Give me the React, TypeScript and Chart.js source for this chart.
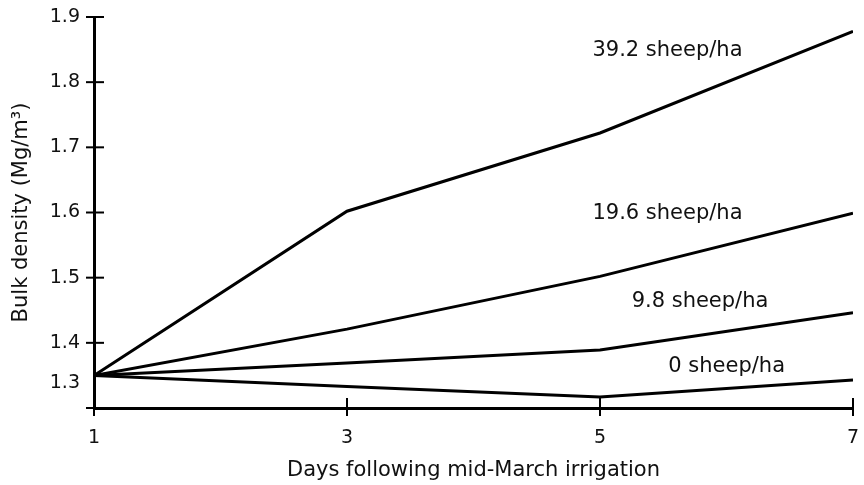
import React, { useEffect, useRef } from "react";
import { Chart, registerables } from "chart.js";

Chart.register(...registerables);

const DAYS = [1, 3, 5, 7];
const X_TICKS = [1, 3, 5, 7];
const Y_TICKS = [1.3, 1.4, 1.5, 1.6, 1.7, 1.8, 1.9];

const SERIES_NAMES = ["39.2 sheep/ha", "19.6 sheep/ha", "9.8 sheep/ha", "0 sheep/ha"];
const S392 = [1.35, 1.602, 1.722, 1.878];
const S196 = [1.35, 1.421, 1.502, 1.599];
const S98 = [1.35, 1.369, 1.389, 1.446];
const S0 = [1.35, 1.333, 1.317, 1.343];
const SERIES = [S392, S196, S98, S0];

// label anchors in data units (left edge, vertical middle)
const LABEL_X = [4.94, 4.94, 5.25, 5.54];
const LABEL_Y = [1.849, 1.599, 1.463, 1.363];
const LOW_LABEL_VALUE = 1.338;

const FONT = "'DejaVu Sans', sans-serif";

export default function App() {
  const ref = useRef<HTMLCanvasElement | null>(null);

  useEffect(() => {
    if (!ref.current) return;

    const tickMarks = {
      id: "tickMarks",
      afterDraw(chart: any) {
        const ctx = chart.ctx;
        const xs = chart.scales.x;
        const ys = chart.scales.y;
        const ax = chart.chartArea.left;
        const ay = chart.chartArea.bottom;
        ctx.save();
        ctx.strokeStyle = "#000";
        ctx.lineWidth = 2;
        Y_TICKS.forEach((v) => {
          const py = ys.getPixelForValue(v);
          ctx.beginPath();
          ctx.moveTo(ax - 8, py);
          ctx.lineTo(ax + 10, py);
          ctx.stroke();
        });
        X_TICKS.forEach((v) => {
          const px = xs.getPixelForValue(v);
          ctx.beginPath();
          ctx.moveTo(px, ay - 10);
          ctx.lineTo(px, ay + 8);
          ctx.stroke();
        });
        // series labels
        ctx.fillStyle = "#111";
        ctx.font = `21px ${FONT}`;
        ctx.textAlign = "left";
        ctx.textBaseline = "middle";
        SERIES_NAMES.forEach((name, i) => {
          ctx.fillText(name, xs.getPixelForValue(LABEL_X[i]), ys.getPixelForValue(LABEL_Y[i]));
        });
        // lowest y tick label drawn raised, as in the original
        ctx.font = `19px ${FONT}`;
        ctx.textAlign = "right";
        ctx.fillText(String(Y_TICKS[0]), ax - 14, ys.getPixelForValue(LOW_LABEL_VALUE));
        ctx.restore();
      },
    };

    const chart = new Chart(ref.current, {
      type: "line",
      data: {
        datasets: SERIES.map((s, i) => ({
          label: SERIES_NAMES[i],
          data: s.map((v, j) => ({ x: DAYS[j], y: v })),
          borderColor: "#000",
          borderWidth: 3,
          pointRadius: 0,
          tension: 0,
          fill: false,
        })),
      },
      options: {
        animation: false,
        responsive: true,
        maintainAspectRatio: false,
        layout: { padding: { top: 17, right: 11, left: 0, bottom: 0 } },
        plugins: { legend: { display: false }, tooltip: { enabled: false } },
        scales: {
          x: {
            type: "linear",
            min: 1,
            max: 7,
            afterBuildTicks: (scale: any) => {
              scale.ticks = X_TICKS.map((v) => ({ value: v }));
            },
            afterFit: (scale: any) => {
              scale.height = 77;
              scale.paddingLeft = 0;
              scale.paddingRight = 0;
            },
            grid: { drawOnChartArea: false, drawTicks: false },
            border: { display: true, color: "#000", width: 3 },
            ticks: {
              color: "#111",
              font: { family: FONT, size: 19 },
              padding: 19,
              maxRotation: 0,
            },
            title: {
              display: true,
              text: "Days following mid-March irrigation",
              color: "#111",
              font: { family: FONT, size: 21 },
              padding: { top: 0, bottom: 2 },
            },
          },
          y: {
            type: "linear",
            min: 1.3,
            max: 1.9,
            afterBuildTicks: (scale: any) => {
              scale.ticks = Y_TICKS.map((v) => ({ value: v }));
            },
            afterFit: (scale: any) => {
              scale.width = 94;
              scale.paddingTop = 0;
              scale.paddingBottom = 0;
            },
            grid: { drawOnChartArea: false, drawTicks: false },
            border: { display: true, color: "#000", width: 3 },
            ticks: {
              color: "#111",
              font: { family: FONT, size: 19 },
              padding: 14,
              callback: (v: any) => (Math.abs(Number(v) - Y_TICKS[0]) < 1e-9 ? "" : Number(v).toFixed(1)),
            },
            title: {
              display: true,
              text: "Bulk density (Mg/m³)",
              color: "#111",
              font: { family: FONT, size: 21 },
              padding: { top: 9, bottom: 0 },
            },
          },
        },
      },
      plugins: [tickMarks],
    });

    return () => chart.destroy();
  }, []);

  return (
    <div style={{ position: "absolute", left: 0, top: 0, width: 864, height: 485, background: "#fff" }}>
      <canvas ref={ref} />
    </div>
  );
}
